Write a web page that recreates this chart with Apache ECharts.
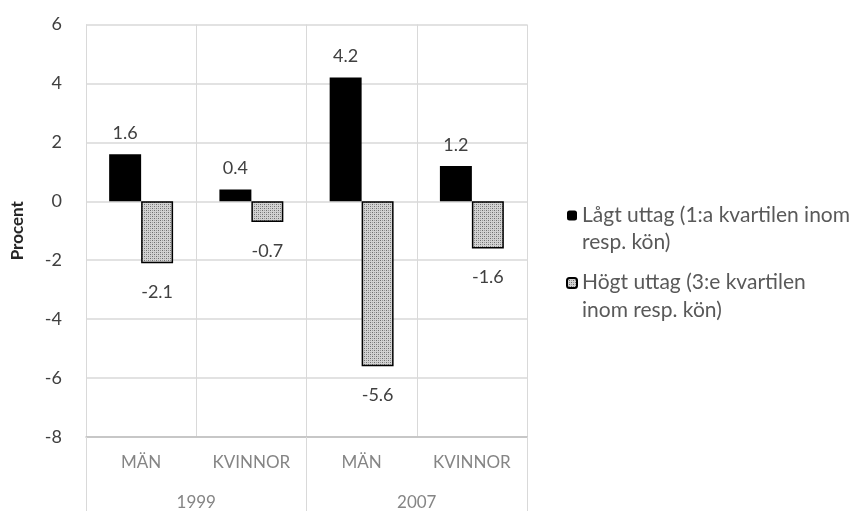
<!DOCTYPE html>
<html>
<head>
<meta charset="utf-8">
<style>html,body{margin:0;padding:0;background:#fff}#c{width:858px;height:511px}</style>
<script src="https://cdn.jsdelivr.net/npm/echarts@6/dist/echarts.min.js"></script>
</head>
<body>
<div id="c"></div>
<script>
const categories = ['MÄN', 'KVINNOR', 'MÄN', 'KVINNOR'];
const years = ['1999', '2007'];
const seriesNames = ['Lågt uttag (1:a kvartilen inom\nresp. kön)', 'Högt uttag (3:e kvartilen\ninom resp. kön)'];
const lowValues = [1.6, 0.4, 4.2, 1.2];
const highValues = [-2.1, -0.7, -5.6, -1.6];
const yTicks = { min: -8, max: 6, interval: 2 };
const yAxisName = 'Procent';

function makePattern() {
  const c = document.createElement('canvas');
  c.width = 4; c.height = 4;
  const ctx = c.getContext('2d');
  ctx.fillStyle = '#d2d2d2';
  ctx.fillRect(0, 0, 4, 4);
  ctx.fillStyle = '#6e6e6e';
  ctx.fillRect(0, 0, 1, 1);
  ctx.fillRect(2, 2, 1, 1);
  ctx.fillStyle = '#9a9a9a';
  ctx.fillRect(2, 0, 1, 1);
  ctx.fillRect(0, 2, 1, 1);
  return c;
}
const pattern = { image: makePattern(), repeat: 'repeat' };

const FONT = 'Lato, "Open Sans", sans-serif';
const LEG_FS = 21;
const chart = echarts.init(document.getElementById('c'), null, { renderer: 'canvas' });
chart.setOption({
  animation: false,
  backgroundColor: '#ffffff',
  textStyle: { fontFamily: FONT },
  grid: { left: 86, right: 331, top: 24.5, bottom: 74 },
  legend: {
    orient: 'vertical',
    left: 566,
    top: 204.5,
    padding: 0,
    itemWidth: 10,
    itemHeight: 10,
    itemGap: 19,
    selectedMode: false,
    textStyle: {
      fontSize: LEG_FS, color: '#595959', fontFamily: FONT,
      rich: {
        a: { fontSize: LEG_FS, color: '#595959', fontFamily: FONT, lineHeight: 54 },
        b: { fontSize: LEG_FS, color: '#595959', fontFamily: FONT, lineHeight: 1 }
      }
    },
    formatter: name => name.split('\n').map((s, i) => '{' + (i === 0 ? 'a' : 'b') + '|' + s + '}').join('\n'),
    data: seriesNames
  },
  xAxis: [
    {
      type: 'category',
      data: categories,
      position: 'bottom',
      axisLine: { show: true, onZero: false, lineStyle: { color: '#bfbfbf', width: 1.5 } },
      axisTick: { show: false },
      axisLabel: { color: '#858585', fontSize: 17, margin: 17, fontFamily: FONT },
      splitLine: { show: true, lineStyle: { color: '#d9d9d9', width: 1 } }
    },
    {
      type: 'category',
      data: years,
      position: 'bottom',
      axisLine: { show: true, onZero: false, lineStyle: { color: 'rgba(0,0,0,0)' } },
      axisTick: { show: true, length: 75, lineStyle: { color: '#d9d9d9', width: 1 } },
      axisLabel: { color: '#858585', fontSize: 17, margin: 57, fontFamily: FONT },
      splitLine: { show: false }
    }
  ],
  yAxis: {
    type: 'value',
    min: yTicks.min,
    max: yTicks.max,
    interval: yTicks.interval,
    name: yAxisName,
    nameLocation: 'middle',
    nameRotate: 90,
    nameGap: 60,
    nameTextStyle: { fontWeight: 'bold', fontSize: 17, color: '#262626', fontFamily: FONT },
    axisLine: { show: false },
    axisTick: { show: false },
    axisLabel: { color: '#404040', fontSize: 18, margin: 24, fontFamily: FONT },
    splitLine: { show: true, lineStyle: { color: '#d9d9d9', width: 1.5 } }
  },
  series: [
    {
      name: seriesNames[0],
      type: 'bar',
      xAxisIndex: 0,
      data: lowValues,
      barGap: '0%',
      barCategoryGap: '42%',
      itemStyle: { color: '#000000' },
      label: { show: true, position: 'top', distance: 12, color: '#404040', fontSize: 18, fontFamily: FONT, formatter: p => p.value.toFixed(1) }
    },
    {
      name: seriesNames[1],
      type: 'bar',
      xAxisIndex: 0,
      data: highValues,
      barGap: '0%',
      barCategoryGap: '42%',
      itemStyle: { color: pattern, borderColor: '#000000', borderWidth: 1.5 },
      label: { show: true, position: 'bottom', distance: 20, color: '#404040', fontSize: 18, fontFamily: FONT, formatter: p => p.value.toFixed(1) }
    }
  ]
});
</script>
</body>
</html>
